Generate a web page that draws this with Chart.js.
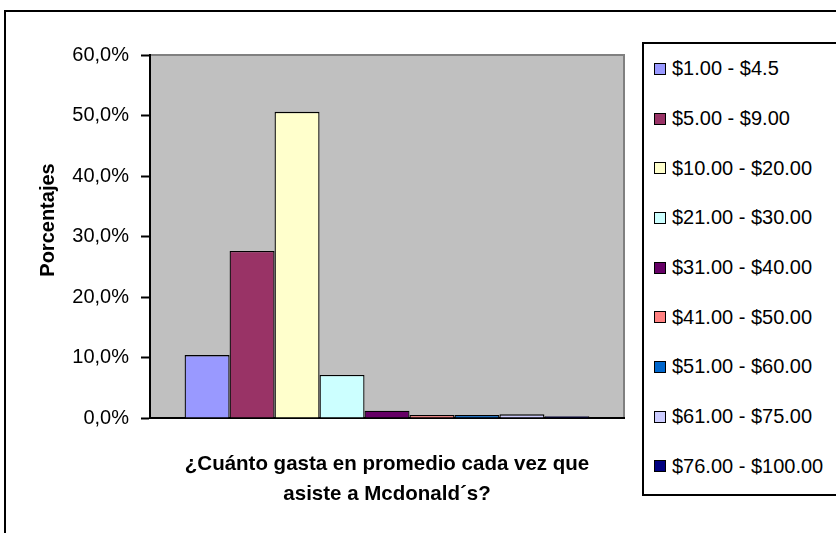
<!DOCTYPE html>
<html lang="es">
  <head>
    <meta charset="UTF-8" />
    <title>¿Cuánto gasta en promedio cada vez que asiste a Mcdonald´s?</title>
    <script src="https://cdn.jsdelivr.net/npm/chart.js@4"></script>
    <style>
      body {
        margin: 0;
        background: #fff;
        font-family: "Liberation Sans", Arial, sans-serif;
      }
      #wrap {
        position: relative;
        width: 836px;
        height: 533px;
        overflow: hidden;
      }
      #frame {
        position: absolute;
        left: 4px;
        top: 10px;
        width: 900px;
        height: 600px;
        border: 2px solid #000;
      }
      #chart {
        position: absolute;
        left: 0;
        top: 0;
      }
      #legend {
        position: absolute;
        left: 642px;
        top: 42px;
        width: 210px;
        height: 454px;
        box-sizing: border-box;
        border: 2px solid #000;
        background: #fff;
      }
      .item {
        height: 49.7px;
        display: flex;
        align-items: center;
        padding-left: 10px;
        font-size: 20px;
        color: #000;
        white-space: nowrap;
      }
      .swatch {
        width: 10px;
        height: 10px;
        border: 1px solid #000;
        margin-right: 6px;
      }
    </style>
  </head>
  <body>
    <div id="wrap">
      <div id="frame"></div>
      <canvas id="chart" width="836" height="533"></canvas>
      <div id="legend"></div>
    </div>

    <script>
      const categories = [""];
      const seriesLabels = [
        "$1.00 - $4.5",
        "$5.00 - $9.00",
        "$10.00 - $20.00",
        "$21.00 - $30.00",
        "$31.00 - $40.00",
        "$41.00 - $50.00",
        "$51.00 - $60.00",
        "$61.00 - $75.00",
        "$76.00 - $100.00",
      ];
      const seriesValues = [10.4, 27.6, 50.6, 7.1, 1.2, 0.5, 0.5, 0.6, 0.3];
      const seriesColors = [
        "#9999FF", "#993366", "#FFFFCC", "#CCFFFF", "#660066",
        "#FF8080", "#0066CC", "#CCCCFF", "#000080",
      ];
      const yTickValues = [0, 10, 20, 30, 40, 50, 60];
      const yTickLabels = ["0,0%", "10,0%", "20,0%", "30,0%", "40,0%", "50,0%", "60,0%"];
      const xTitle = ["¿Cuánto gasta en promedio cada vez que", "asiste a Mcdonald´s?"];
      const yTitle = "Porcentajes";

      const FONT = "'Liberation Sans', Arial, sans-serif";

      // grey plot area like Excel
      const plotArea = {
        id: "plotArea",
        beforeDraw(chart) {
          const { ctx, chartArea: a } = chart;
          ctx.save();
          ctx.fillStyle = "#C0C0C0";
          ctx.fillRect(a.left, a.top, a.width, a.height);
          ctx.strokeStyle = "#808080";
          ctx.lineWidth = 2;
          ctx.strokeRect(a.left, a.top, a.width, a.height);
          ctx.restore();
        },
      };

      // y title sits a bit above the axis middle in the original
      const yAxisTitle = {
        id: "yAxisTitle",
        afterDraw(chart) {
          const { ctx } = chart;
          ctx.save();
          ctx.translate(48, 220);
          ctx.rotate(-Math.PI / 2);
          ctx.font = "bold 20px " + FONT;
          ctx.fillStyle = "#000";
          ctx.textAlign = "center";
          ctx.textBaseline = "middle";
          ctx.fillText(yTitle, 0, 0);
          ctx.restore();
        },
      };

      new Chart(document.getElementById("chart").getContext("2d"), {
        type: "bar",
        data: {
          labels: categories,
          datasets: seriesLabels.map((label, i) => ({
            label: label,
            data: [seriesValues[i]],
            backgroundColor: seriesColors[i],
            borderColor: "#000",
            borderWidth: 1.3,
            categoryPercentage: 0.854,
            barPercentage: 1,
          })),
        },
        options: {
          responsive: false,
          animation: false,
          layout: {
            padding: { left: 0, top: 55, right: 212, bottom: 19 },
          },
          plugins: {
            legend: { display: false },
            tooltip: { enabled: false },
          },
          scales: {
            x: {
              grid: { display: false, drawTicks: false },
              border: { display: true, color: "#000", width: 2 },
              ticks: { display: false },
              title: {
                display: true,
                text: xTitle,
                color: "#000",
                font: { family: FONT, size: 20.5, weight: "bold", lineHeight: 1.5 },
                padding: { top: 0, bottom: 4 },
              },
              afterFit: (scale) => {
                scale.height = 96;
              },
            },
            y: {
              min: 0,
              max: 60,
              afterBuildTicks: (scale) => {
                scale.ticks = yTickValues.map((v) => ({ value: v }));
              },
              ticks: {
                color: "#000",
                padding: 12,
                font: { family: FONT, size: 20 },
                callback: (v) => yTickLabels[yTickValues.indexOf(v)],
              },
              grid: {
                drawOnChartArea: false,
                drawTicks: true,
                tickLength: 9,
                tickColor: "#000",
                tickWidth: 2,
              },
              border: { display: true, color: "#000", width: 2 },
              afterFit: (scale) => {
                scale.width = 150;
              },
            },
          },
        },
        plugins: [plotArea, yAxisTitle],
      });

      // legend box on the right
      const legend = document.getElementById("legend");
      seriesLabels.forEach((label, i) => {
        const row = document.createElement("div");
        row.className = "item";
        const sw = document.createElement("span");
        sw.className = "swatch";
        sw.style.background = seriesColors[i];
        row.appendChild(sw);
        row.appendChild(document.createTextNode(label));
        legend.appendChild(row);
      });
    </script>
  </body>
</html>
